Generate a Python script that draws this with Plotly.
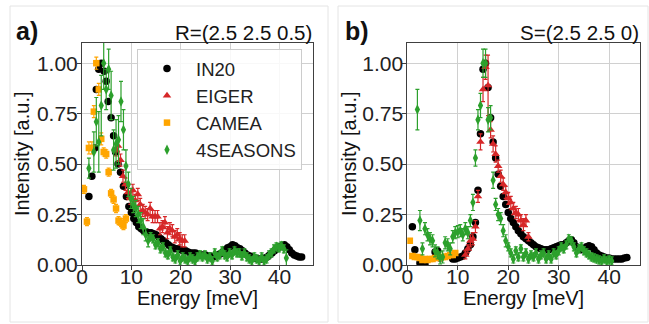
import plotly.graph_objects as go

W, H = 649, 324

# ---------------- Panel a) R=(2.5 2.5 0.5) ----------------
in20_a_x = [1.4, 2.0, 2.6, 2.9, 3.4, 3.9, 4.5, 4.9, 5.3, 5.9, 6.4, 6.8, 7.3, 7.8, 8.4, 9.0,
            9.5, 10.0, 10.5, 11.0, 11.5, 12.0, 12.5, 13.0, 13.5, 14.0, 14.5, 15.0, 15.5, 16.0,
            16.5, 17.0, 17.5, 18.0, 18.5, 19.0, 19.5, 20.0, 20.5, 21.0, 21.5, 22.0, 22.5, 23.0,
            23.5, 24.0, 24.5, 25.0, 25.5, 26.0, 26.5, 27.0, 27.5, 28.0, 28.5, 29.0, 29.5, 30.0,
            30.5, 31.0, 31.5, 32.0, 32.5, 33.0, 33.5, 34.0, 34.5, 35.0, 35.5, 36.0, 36.5, 37.0,
            37.5, 38.0, 38.5, 39.0, 39.5, 40.0, 40.5, 41.0, 41.5, 42.0, 42.5, 43.0, 43.5, 44.0, 44.5]
in20_a_y = [0.34, 0.44, 0.58, 0.87, 0.97, 1.00, 0.96, 0.91, 0.81, 0.73, 0.64, 0.56, 0.50, 0.46, 0.39, 0.34,
            0.29, 0.26, 0.23, 0.21, 0.19, 0.18, 0.17, 0.165, 0.16, 0.16, 0.155, 0.15, 0.14, 0.13,
            0.12, 0.11, 0.10, 0.09, 0.085, 0.08, 0.08, 0.075, 0.07, 0.07, 0.065, 0.06, 0.06, 0.06,
            0.055, 0.05, 0.05, 0.05, 0.045, 0.045, 0.04, 0.045, 0.05, 0.055, 0.065, 0.075, 0.085, 0.09,
            0.10, 0.095, 0.085, 0.08, 0.07, 0.06, 0.05, 0.045, 0.04, 0.035, 0.03, 0.03, 0.03, 0.035,
            0.04, 0.05, 0.06, 0.07, 0.08, 0.09, 0.095, 0.10, 0.09, 0.075, 0.06, 0.05, 0.045, 0.04, 0.04]

eiger_a_x = [6.9, 7.3, 7.8, 8.3, 8.8, 9.3, 9.8, 10.3, 10.8, 11.3, 11.8, 12.3, 12.8, 13.3, 13.8,
             14.3, 14.8, 15.3, 15.8, 16.3, 16.8, 17.3, 17.8, 18.3, 18.8, 19.3, 19.8, 20.3, 20.8]
eiger_a_y = [0.57, 0.59, 0.52, 0.44, 0.40, 0.36, 0.33, 0.37, 0.32, 0.35, 0.30, 0.27, 0.26, 0.25, 0.28,
             0.24, 0.24, 0.24, 0.18, 0.19, 0.21, 0.16, 0.18, 0.17, 0.14, 0.15, 0.13, 0.12, 0.12]
eiger_a_e = [0.03, 0.03, 0.03, 0.03, 0.03, 0.03, 0.03, 0.03, 0.03, 0.03, 0.03, 0.03, 0.03, 0.03, 0.03,
             0.03, 0.03, 0.03, 0.03, 0.03, 0.03, 0.03, 0.03, 0.03, 0.03, 0.03, 0.03, 0.03, 0.03]

camea_a_x = [0.4, 1.0, 1.4, 2.0, 2.4, 2.9, 3.4, 3.9, 4.4, 4.9, 5.4, 5.9, 6.4, 6.9, 7.4, 7.9, 8.4, 8.9]
camea_a_y = [0.375, 0.215, 0.58, 0.58, 0.76, 1.00, 0.87, 0.625, 0.56, 0.55, 0.46, 0.355, 0.325,
             0.28, 0.22, 0.21, 0.195, 0.23]
camea_a_e = [0.02, 0.02, 0.03, 0.03, 0.03, 0.03, 0.03, 0.03, 0.02, 0.02, 0.02, 0.02, 0.02,
             0.02, 0.02, 0.02, 0.02, 0.02]

seasons_a_x = [1.4, 2.4, 2.9, 3.4, 3.9, 4.4, 4.9, 5.4, 5.9, 6.4, 6.9, 7.4, 7.9, 8.4, 8.9, 9.4, 9.9,
               10.4, 10.9, 11.4, 11.9, 12.4, 12.9, 13.4, 13.9, 14.4, 14.9, 15.4, 15.9, 16.4, 16.9,
               17.4, 17.9, 18.4, 18.9, 19.4, 19.9, 20.4, 20.9, 21.4, 21.9, 22.4, 22.9, 23.4, 23.9,
               24.4, 24.9, 25.4, 25.9, 26.4, 26.9, 27.4, 27.9, 28.4, 28.9, 29.4, 29.9, 30.4, 30.9,
               31.4, 31.9, 32.4, 32.9, 33.4, 33.9, 34.4, 34.9, 35.4, 35.9, 36.4, 36.9, 37.4, 37.9,
               38.4, 38.9, 39.4, 39.9, 40.4, 40.9, 41.4]
seasons_a_y = [0.48, 0.56, 0.71, 0.61, 0.79, 1.00, 0.87, 0.97, 0.84, 0.57,
               0.60, 0.62, 0.81, 0.67, 0.49, 0.40, 0.33, 0.30, 0.28, 0.25,
               0.22, 0.19, 0.15, 0.12, 0.14, 0.13, 0.10, 0.11, 0.08, 0.09,
               0.06, 0.05, 0.07, 0.04, 0.03, 0.05, 0.02, 0.04, 0.03, 0.02,
               0.04, 0.03, 0.02, 0.04, 0.05, 0.04, 0.05, 0.03, 0.04, 0.02,
               0.06, 0.04, 0.05, 0.07, 0.05, 0.04, 0.06, 0.05, 0.07, 0.06,
               0.06, 0.045, 0.06, 0.04, 0.03, 0.02, 0.04, 0.03, 0.02, 0.04,
               0.02, 0.03, 0.05, 0.06, 0.08, 0.09, 0.085, 0.095, 0.08, 0.035]
seasons_a_e = [0.05, 0.10, 0.12, 0.15, 0.15, 0.13, 0.10, 0.10, 0.12, 0.10,
               0.12, 0.12, 0.10, 0.10, 0.08, 0.06, 0.05, 0.04, 0.04, 0.04,
               0.04, 0.04, 0.03, 0.03, 0.02, 0.02, 0.02, 0.02, 0.02, 0.02,
               0.02, 0.02, 0.02, 0.02, 0.02, 0.02, 0.02, 0.02, 0.02, 0.02,
               0.02, 0.02, 0.02, 0.02, 0.02, 0.02, 0.02, 0.02, 0.02, 0.02,
               0.02, 0.02, 0.02, 0.02, 0.02, 0.02, 0.02, 0.02, 0.02, 0.02,
               0.02, 0.02, 0.02, 0.02, 0.02, 0.02, 0.02, 0.02, 0.02, 0.02,
               0.02, 0.02, 0.02, 0.02, 0.02, 0.02, 0.02, 0.02, 0.02, 0.04]

# ---------------- Panel b) S=(2.5 2.5 0) ----------------
in20_b_x = [1.0, 1.5, 2.5, 3.0, 3.5, 5.5, 6.0, 6.5,
            9.0, 9.5, 10.0, 10.5, 11.0, 11.5, 12.0, 12.5, 13.0, 13.5, 14.0, 14.5, 15.0, 15.5,
            16.0, 16.5, 17.0, 17.5, 18.0, 18.5, 19.0, 19.5, 20.0, 20.5, 21.0, 21.5, 22.0, 22.5,
            23.0, 23.5, 24.0, 24.5, 25.0, 25.5, 26.0, 26.5, 27.0, 27.5, 28.0, 28.5, 29.0, 29.5,
            30.0, 30.5, 31.0, 31.5, 32.0, 32.5, 33.0, 33.5, 34.0, 34.5, 35.0, 35.5, 36.0, 36.5,
            37.0, 37.5, 38.0, 38.5, 39.0, 39.5, 40.0, 40.5, 41.0, 41.5, 42.0, 42.5, 43.0, 43.5]
in20_b_y = [0.19, 0.075, 0.01, 0.0, 0.005, 0.065, 0.07, 0.035,
            0.03, 0.03, 0.035, 0.04, 0.045, 0.06, 0.08, 0.10, 0.14, 0.21, 0.37, 0.65, 0.97, 1.00,
            0.88, 0.73, 0.61, 0.53, 0.45, 0.39, 0.34, 0.30, 0.26, 0.23, 0.21, 0.19, 0.17, 0.155,
            0.14, 0.13, 0.12, 0.11, 0.10, 0.09, 0.085, 0.08, 0.075, 0.075, 0.075, 0.08, 0.085, 0.09,
            0.095, 0.10, 0.10, 0.11, 0.12, 0.125, 0.11, 0.09, 0.08, 0.075, 0.08, 0.09, 0.095, 0.09,
            0.075, 0.06, 0.05, 0.045, 0.04, 0.035, 0.035, 0.03, 0.03, 0.03, 0.03, 0.03, 0.035, 0.037]

eiger_b_x = [11.5, 12.0, 12.5, 13.0, 13.5, 14.0, 14.5, 15.0, 15.5, 16.0, 16.5, 17.0, 17.5,
             18.0, 18.5, 19.0, 19.5, 20.0, 20.5, 21.0, 21.5, 22.0, 22.5, 23.0, 23.5, 24.0]
eiger_b_y = [0.05, 0.08, 0.12, 0.13, 0.19, 0.34, 0.61, 0.87, 0.98, 0.89, 0.67, 0.60, 0.55,
             0.49, 0.44, 0.40, 0.36, 0.33, 0.31, 0.28, 0.26, 0.25, 0.22, 0.20, 0.22, 0.14]
eiger_b_e = [0.02, 0.02, 0.03, 0.03, 0.03, 0.03, 0.04, 0.06, 0.06, 0.15, 0.04, 0.04, 0.04,
             0.03, 0.03, 0.03, 0.03, 0.03, 0.03, 0.03, 0.03, 0.03, 0.03, 0.03, 0.03, 0.02]

camea_b_x = [0.5, 1.0, 1.5, 2.0, 2.5, 3.0, 3.5, 4.0, 4.5, 5.0, 5.5, 6.0, 6.5, 7.0, 7.5, 8.0,
             8.5, 9.0, 9.5]
camea_b_y = [0.12, 0.045, 0.04, 0.04, 0.035, 0.025, 0.03, 0.025, 0.03, 0.03, 0.035, 0.04,
             0.035, 0.04, 0.04, 0.045, 0.05, 0.05, 0.06]
camea_b_e = [0.01, 0.01, 0.01, 0.01, 0.01, 0.01, 0.01, 0.01, 0.01, 0.01, 0.01, 0.01,
             0.01, 0.01, 0.01, 0.01, 0.01, 0.01, 0.01]

seasons_b_x = [2.0, 2.5, 3.0, 3.5, 4.0, 4.5, 5.0, 5.5, 6.0, 6.5,
               7.0, 7.5, 8.0, 8.5, 9.0, 9.5, 10.0, 10.5, 11.0, 11.5,
               12.0, 12.5, 13.0, 13.5, 14.0, 14.5, 15.0, 15.5, 16.0, 16.5,
               17.0, 17.5, 18.0, 18.5, 19.0, 19.5, 20.0, 20.5, 21.0, 21.5,
               22.0, 22.5, 23.0, 23.5, 24.0, 24.5, 25.0, 25.5, 26.0, 26.5,
               27.0, 27.5, 28.0, 28.5, 29.0, 29.5, 30.0, 30.5, 31.0, 31.5,
               32.0, 32.5, 33.0, 33.5, 34.0, 34.5, 35.0, 35.5, 36.0, 36.5,
               37.0, 37.5, 38.0, 38.5, 39.0, 39.5, 40.0, 40.5]
seasons_b_y = [0.77, 0.22, 0.08, 0.18, 0.15, 0.13, 0.12, 0.07, 0.06, 0.035,
               0.04, 0.11, 0.10, 0.08, 0.14, 0.16, 0.165, 0.17, 0.15, 0.18,
               0.16, 0.22, 0.31, 0.53, 0.72, 0.79, 1.00, 1.00, 0.72, 0.73,
               0.42, 0.30, 0.25, 0.23, 0.17, 0.12, 0.09, 0.06, 0.03, 0.07,
               0.04, 0.08, 0.04, 0.06, 0.03, 0.05, 0.04, 0.06, 0.03, 0.05,
               0.06, 0.03, 0.05, 0.03, 0.06, 0.05, 0.07, 0.09, 0.08, 0.10,
               0.13, 0.12, 0.09, 0.06, 0.08, 0.09, 0.07, 0.06, 0.05, 0.04,
               0.035, 0.03, 0.025, 0.02, 0.03, 0.02, 0.025, 0.02]
seasons_b_e = [0.10, 0.05, 0.03, 0.03, 0.03, 0.03, 0.03, 0.03, 0.03, 0.03,
               0.03, 0.03, 0.03, 0.03, 0.03, 0.03, 0.03, 0.03, 0.03, 0.03,
               0.03, 0.03, 0.04, 0.04, 0.05, 0.06, 0.07, 0.07, 0.06, 0.06,
               0.04, 0.03, 0.03, 0.03, 0.03, 0.03, 0.02, 0.02, 0.02, 0.02,
               0.02, 0.02, 0.02, 0.02, 0.02, 0.02, 0.02, 0.02, 0.02, 0.02,
               0.02, 0.02, 0.02, 0.02, 0.02, 0.02, 0.02, 0.02, 0.02, 0.02,
               0.02, 0.02, 0.02, 0.02, 0.02, 0.02, 0.02, 0.02, 0.02, 0.02,
               0.02, 0.02, 0.02, 0.02, 0.02, 0.02, 0.02, 0.02]

labels = ["IN20", "EIGER", "CAMEA", "4SEASONS"]
colors = ["#000000", "#d62728", "#ffa500", "#2ca02c"]
symbols = ["circle", "triangle-up", "square", "diamond-tall"]
sizes = [7.5, 7.5, 6.5, 7.5]

in20_e = 0.008

FONT = "Liberation Sans, Arial, sans-serif"
fig = go.Figure()

panels = [
    ("x", "y", [(in20_a_x, in20_a_y, None), (eiger_a_x, eiger_a_y, eiger_a_e),
                (camea_a_x, camea_a_y, camea_a_e), (seasons_a_x, seasons_a_y, seasons_a_e)], True),
    ("x2", "y2", [(in20_b_x, in20_b_y, None), (eiger_b_x, eiger_b_y, eiger_b_e),
                  (camea_b_x, camea_b_y, camea_b_e), (seasons_b_x, seasons_b_y, seasons_b_e)], False),
]
for xa, ya, series, show in panels:
    for i, (xs, ys, es) in enumerate(series):
        err = dict(type="data", array=es, color=colors[i], thickness=1.2, width=2) if es else \
              dict(type="constant", value=in20_e, color=colors[i], thickness=1.2, width=2)
        fig.add_trace(go.Scatter(
            x=xs, y=ys, mode="markers", name=labels[i], xaxis=xa, yaxis=ya,
            marker=dict(color=colors[i], symbol=symbols[i], size=sizes[i], line=dict(width=0)),
            error_y=err, showlegend=show, legendgroup=labels[i]))

axis_common = dict(showgrid=True, gridcolor="#d0d0d0", gridwidth=1, zeroline=False,
                   showline=True, linecolor="#404040", linewidth=1, mirror=True,
                   ticks="outside", ticklen=4, tickcolor="#404040", automargin=False,
                   tickfont=dict(family=FONT, size=21, color="#222"))
ya_dom = [1 - 265 / H, 1 - 43 / H]
yticks = [0, 0.25, 0.5, 0.75, 1.0]
yticktext = ["0.00", "0.25", "0.50", "0.75", "1.00"]
xticks = [0, 10, 20, 30, 40]
fig.update_layout(
    template="none",
    width=W, height=H, margin=dict(l=0, r=0, t=0, b=0, pad=0), autosize=False,
    paper_bgcolor="white", plot_bgcolor="white",
    xaxis=dict(domain=[82 / W, 313 / W], range=[0, 46.8], tickvals=xticks,
               anchor="y", ticklabelstandoff=-11, **axis_common),
    yaxis=dict(domain=ya_dom, range=[0, 1.1], tickvals=yticks, ticktext=yticktext,
               anchor="x", ticklabelstandoff=-5, **axis_common),
    xaxis2=dict(domain=[407.3 / W, 640 / W], range=[0, 46.1], tickvals=xticks,
                anchor="y2", ticklabelstandoff=-11, **axis_common),
    yaxis2=dict(domain=ya_dom, range=[0, 1.1], tickvals=yticks, ticktext=yticktext,
                anchor="x2", ticklabelstandoff=-5, **axis_common),
    legend=dict(x=137 / W, y=1 - 49 / H, xanchor="left", yanchor="top",
                bgcolor="rgba(255,255,255,0.85)", bordercolor="#cccccc", borderwidth=1,
                font=dict(family=FONT, size=18.5, color="#222"), traceorder="grouped",
                tracegroupgap=0, itemwidth=48),
    font=dict(family=FONT, color="#222"),
)

def ann(text, px, py, xanchor="center", yanchor="middle", size=20, angle=0, bold=False):
    fig.add_annotation(text=f"<b>{text}</b>" if bold else text, x=px / W, y=1 - py / H,
                       xref="paper", yref="paper", showarrow=False, xanchor=xanchor,
                       yanchor=yanchor, textangle=angle,
                       font=dict(family=FONT, size=size, color="#111"))

ann("a)", 14, 31, xanchor="left", size=25, bold=True)
ann("R=(2.5 2.5 0.5)", 314, 32, xanchor="right", size=20.5)
ann("b)", 343, 31, xanchor="left", size=25, bold=True)
ann("S=(2.5 2.5 0)", 641, 32, xanchor="right", size=20.5)
ann("Energy [meV]", 197.5, 298, size=20)
ann("Energy [meV]", 523.5, 298, size=20)
ann("Intensity [a.u.]", 22, 154, size=20, angle=-90)
ann("Intensity [a.u.]", 349, 154, size=20, angle=-90)

for x0, x1 in [(10, 328), (338, 648)]:
    fig.add_shape(type="rect", xref="paper", yref="paper", x0=x0 / W, x1=x1 / W,
                  y0=1 - 322 / H, y1=1 - 6 / H, line=dict(color="#e4e4e4", width=1))

fig.write_html("out.html")
